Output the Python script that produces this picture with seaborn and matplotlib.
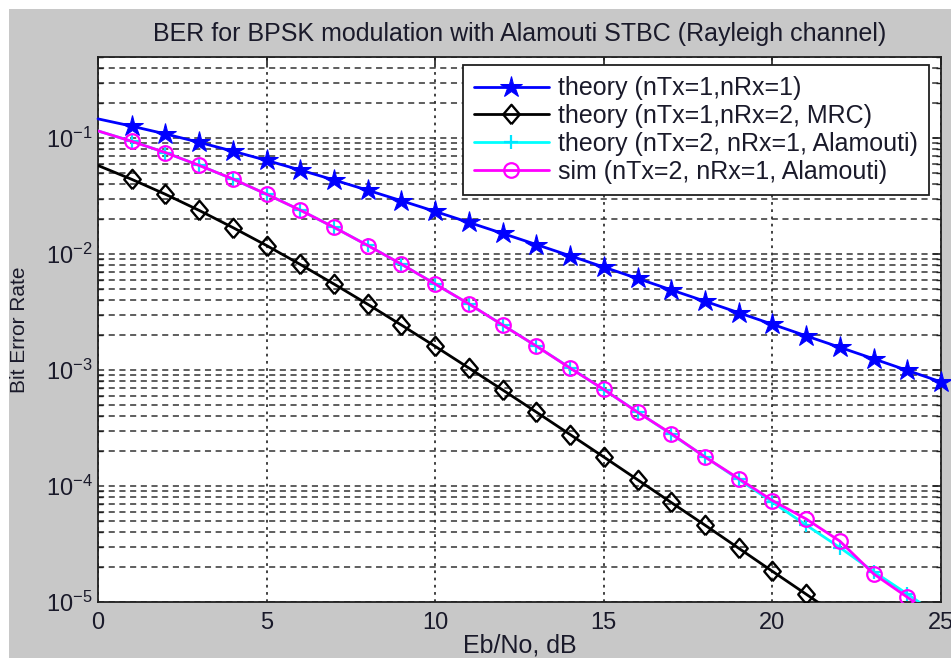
import matplotlib
matplotlib.use("Agg")
import matplotlib.pyplot as plt
from matplotlib.patches import Rectangle
from matplotlib.ticker import LogLocator, NullFormatter, FixedLocator, FixedFormatter
import seaborn as sns
import numpy as np

# ---------------- data ----------------
ebno_db = [0, 1, 2, 3, 4, 5, 6, 7, 8, 9, 10, 11, 12, 13, 14, 15, 16, 17, 18,
           19, 20, 21, 22, 23, 24, 25]

ber_theory_siso = [0.1464, 0.1267, 0.1085, 0.0919, 0.0771, 0.0642, 0.0530,
                   0.0435, 0.0355, 0.0288, 0.0233, 0.01874, 0.01506, 0.01207,
                   0.00966, 0.00772, 0.00616, 0.00491, 0.00392, 0.00312,
                   0.00248, 0.00197, 0.00157, 0.00125, 0.000993, 0.00079]

ber_theory_mrc = [0.0580, 0.04409, 0.03276, 0.02379, 0.01692, 0.01184,
                  0.00813, 0.00551, 0.00369, 0.00244, 0.00160, 0.001040,
                  0.000674, 0.000434, 0.000278, 0.0001779, 0.0001134,
                  7.21e-5, 4.60e-5, 2.91e-5, 1.84e-5, 1.168e-5, 7.39e-6,
                  4.68e-6, 2.96e-6, 1.87e-6]

ber_theory_alamouti = [0.1151, 0.0939, 0.07485, 0.05825, 0.04426, 0.03285,
                       0.02388, 0.01699, 0.01187, 0.00816, 0.005527, 0.00370,
                       0.00245, 0.001605, 0.001046, 0.000677, 0.000436,
                       0.0002797, 0.0001788, 0.000114, 7.256e-5, 4.61e-5,
                       2.95e-5, 1.83e-5, 1.173e-5, 7.4e-6]

ber_sim_alamouti = [0.1153, 0.0937, 0.0750, 0.0581, 0.0444, 0.0328, 0.0239,
                    0.0170, 0.01185, 0.00818, 0.00551, 0.00372, 0.00244,
                    0.00161, 0.00104, 0.000680, 0.000433, 0.000283, 0.000178,
                    0.000116, 7.5e-5, 5.2e-5, 3.35e-5, 1.75e-5, 1.10e-5, 6.9e-6]

labels = ["theory (nTx=1,nRx=1)",
          "theory (nTx=1,nRx=2, MRC)",
          "theory (nTx=2, nRx=1, Alamouti)",
          "sim (nTx=2, nRx=1, Alamouti)"]

title = "BER for BPSK modulation with Alamouti STBC (Rayleigh channel)"
xlabel = "Eb/No, dB"
ylabel = "Bit Error Rate"
xticks = [0, 5, 10, 15, 20, 25]
yticks = [1e-5, 1e-4, 1e-3, 1e-2, 1e-1]
ytick_labels = ["$10^{-5}$", "$10^{-4}$", "$10^{-3}$", "$10^{-2}$", "$10^{-1}$"]

# ---------------- style ----------------
sns.set_theme(style="white")
plt.rcParams["font.family"] = ["Liberation Sans", "DejaVu Sans"]
plt.rcParams["mathtext.default"] = "regular"
TXT = "#1a1a2a"
FS = 18
FS_TICK = 17

W, H = 951, 658
fig = plt.figure(figsize=(W / 100, H / 100), dpi=100)
fig.patch.set_facecolor("white")
fig.patches.append(Rectangle((9 / W, 0), 1 - 9 / W, 1 - 9 / H,
                             transform=fig.transFigure, facecolor="#c8c8c8",
                             edgecolor="none", zorder=-10))

ax_l, ax_r, ax_t, ax_b = 98, 941, 57, 602
ax = fig.add_axes([ax_l / W, 1 - ax_b / H, (ax_r - ax_l) / W, (ax_b - ax_t) / H])
ax.set_facecolor("white")

lw = 2.0
skip_first = slice(1, None)
diamond = [(0, -1), (0.85, 0), (0, 1), (-0.85, 0), (0, -1)]

sns.lineplot(x=ebno_db, y=ber_theory_siso, ax=ax, color="#0000ff",
             marker="*", markersize=16, markeredgecolor="#0000ff",
             markerfacecolor="#0000ff", linewidth=lw, label=labels[0],
             markevery=skip_first, clip_on=False, zorder=5)
sns.lineplot(x=ebno_db, y=ber_theory_mrc, ax=ax, color="black",
             marker=diamond, markersize=14, markeredgecolor="black",
             markerfacecolor="none", markeredgewidth=1.7, linewidth=lw,
             label=labels[1], markevery=skip_first, zorder=5)
sns.lineplot(x=ebno_db, y=ber_theory_alamouti, ax=ax, color="#00ffff",
             marker="+", markersize=10, markeredgecolor="#00e5ff",
             markeredgewidth=1.6, linewidth=lw, label=labels[2],
             markevery=skip_first, zorder=5)
sns.lineplot(x=ebno_db, y=ber_sim_alamouti, ax=ax, color="#ff00ff",
             marker="o", markersize=10.5, markeredgecolor="#ff00ff",
             markerfacecolor="none", markeredgewidth=1.6, linewidth=lw,
             label=labels[3], markevery=skip_first, zorder=6)

ax.set_yscale("log")
ax.set_xlim(0, 25)
ax.set_ylim(1e-5, 0.5)

ax.xaxis.set_major_locator(FixedLocator(xticks))
ax.yaxis.set_major_locator(FixedLocator(yticks))
ax.yaxis.set_major_formatter(FixedFormatter(ytick_labels))
ax.yaxis.set_minor_locator(LogLocator(base=10, subs=np.arange(2, 10), numticks=20))
ax.yaxis.set_minor_formatter(NullFormatter())

ax.tick_params(axis="both", which="major", direction="in", length=6, width=1.2,
               colors="#202020", labelsize=FS_TICK, labelcolor=TXT,
               top=True, right=True)
ax.tick_params(axis="y", which="minor", direction="in", length=3.5, width=1.0,
               colors="#202020", left=True, right=True)
ax.tick_params(axis="x", which="major", pad=7)
ax.tick_params(axis="y", which="major", pad=4)

# grid
ax.grid(False)
ax.grid(True, axis="y", which="both", color="#333333", linestyle=(0, (4, 3)),
        linewidth=1.1, zorder=0)
ax.grid(True, axis="x", which="major", color="#333333", linestyle=(0, (1.5, 2.5)),
        linewidth=1.3, zorder=0)
ax.set_axisbelow(True)

for s in ax.spines.values():
    s.set_color("#202020")
    s.set_linewidth(1.3)
    s.set_visible(True)

ax.set_xlabel("")
ax.set_ylabel("")
fig.text((ax_l + ax_r) / 2 / W, 1 - 34 / H, title, ha="center", va="center",
         fontsize=FS, color=TXT)
fig.text((ax_l + ax_r) / 2 / W, 1 - 646 / H, xlabel, ha="center", va="center",
         fontsize=FS, color=TXT)
fig.text(20 / W, 1 - 330 / H, ylabel, ha="center", va="center",
         rotation=90, fontsize=FS - 3, color=TXT)

leg = ax.legend(loc="upper right",
                bbox_to_anchor=((929 - ax_l) / (ax_r - ax_l), (ax_b - 65) / (ax_b - ax_t)),
                borderaxespad=0, fontsize=FS, frameon=True, fancybox=False,
                shadow=False, framealpha=1, edgecolor="#202020",
                handlelength=3.0, handletextpad=0.36, labelspacing=0.15,
                borderpad=0.45)
leg.get_frame().set_linewidth(1.3)
for t in leg.get_texts():
    t.set_color(TXT)

fig.savefig("out.png", dpi=100, facecolor=fig.get_facecolor())
